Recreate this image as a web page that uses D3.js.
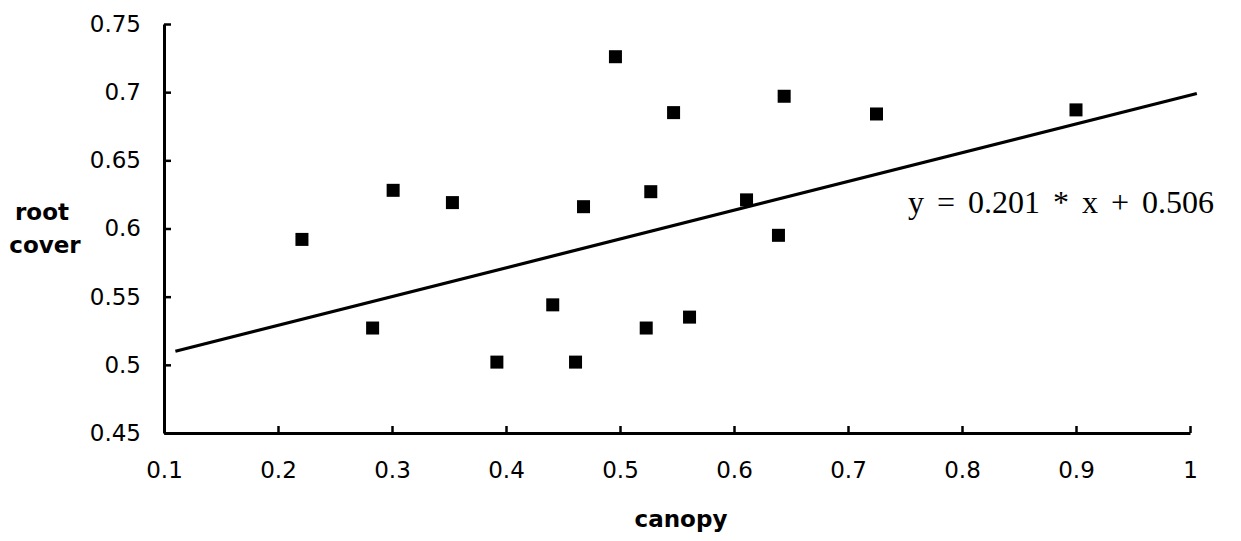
<!DOCTYPE html>
<html lang="en">
<head>
	<meta charset="utf-8">
	<title>Root cover vs canopy</title>
	<script src="https://d3js.org/d3.v7.min.js"></script>
	<style>
		body {
			margin: 0;
			background: #fff;
		}
		.tick text {
			font-family: "DejaVu Sans", Arial, sans-serif;
			font-size: 23px;
			fill: #000;
		}
		.label {
			font-family: "DejaVu Sans", Arial, sans-serif;
			font-weight: bold;
			font-size: 23px;
		}
	</style>
</head>
<body>
	<script>
		// canopy vs root cover
		var canopy = [0.221, 0.283, 0.301, 0.353, 0.392, 0.441, 0.461, 0.468, 0.496,
			0.527, 0.523, 0.547, 0.561, 0.611, 0.639, 0.644, 0.725, 0.900];
		var rootCover = [0.592, 0.527, 0.628, 0.619, 0.502, 0.544, 0.502, 0.616, 0.726,
			0.627, 0.527, 0.685, 0.535, 0.621, 0.595, 0.697, 0.684, 0.687];

		// fitted line as drawn (end points)
		var fitX = [0.11, 1.006];
		var fitY = [0.510, 0.699];

		var xTicks = [0.1, 0.2, 0.3, 0.4, 0.5, 0.6, 0.7, 0.8, 0.9, 1];
		var yTicks = [0.45, 0.5, 0.55, 0.6, 0.65, 0.7, 0.75];

		var w = 1241;
		var h = 541;

		var xScale = d3.scaleLinear().domain([0.1, 1]).range([164, 1190]);
		var yScale = d3.scaleLinear().domain([0.45, 0.75]).range([433, 24]);

		var svg = d3.select("body")
			.append("svg")
			.attr("width", w)
			.attr("height", h);

		var xAxis = d3.axisBottom(xScale)
			.tickValues(xTicks)
			.tickFormat(d3.format("~g"))
			.tickSizeInner(-7)
			.tickSizeOuter(0)
			.tickPadding(29);

		var yAxis = d3.axisLeft(yScale)
			.tickValues(yTicks)
			.tickFormat(d3.format("~g"))
			.tickSizeInner(-7)
			.tickSizeOuter(0)
			.tickPadding(23);

		var gx = svg.append("g")
			.attr("transform", "translate(0," + yScale(0.45) + ")")
			.call(xAxis);

		var gy = svg.append("g")
			.attr("transform", "translate(" + xScale(0.1) + ",0)")
			.call(yAxis);

		svg.selectAll(".domain")
			.attr("stroke", "#000")
			.attr("stroke-width", 3);
		svg.selectAll(".tick line")
			.attr("stroke", "#000")
			.attr("stroke-width", 2.5);

		gx.selectAll(".tick text").attr("dy", "0.71em");

		// regression line
		svg.append("line")
			.attr("x1", xScale(fitX[0]))
			.attr("y1", yScale(fitY[0]))
			.attr("x2", xScale(fitX[1]))
			.attr("y2", yScale(fitY[1]))
			.attr("stroke", "#000")
			.attr("stroke-width", 3.2);

		// square markers
		var size = 13;
		svg.selectAll("rect.pt")
			.data(canopy)
			.enter()
			.append("rect")
			.attr("class", "pt")
			.attr("x", function (d) { return xScale(d) - size / 2; })
			.attr("y", function (d, i) { return yScale(rootCover[i]) - size / 2; })
			.attr("width", size)
			.attr("height", size)
			.attr("fill", "#000");

		// equation
		svg.append("text")
			.attr("x", 908)
			.attr("y", 213)
			.style("font-family", "'Liberation Serif', 'Times New Roman', serif")
			.style("font-size", "32px")
			.style("word-spacing", "5px")
			.text("y = 0.201 * x + 0.506");

		// axis titles
		svg.append("text")
			.attr("class", "label")
			.attr("text-anchor", "middle")
			.attr("x", 681)
			.attr("y", 527)
			.text("canopy");

		svg.append("text")
			.attr("class", "label")
			.attr("text-anchor", "middle")
			.attr("x", 42)
			.attr("y", 220)
			.text("root");

		svg.append("text")
			.attr("class", "label")
			.attr("text-anchor", "middle")
			.attr("x", 45)
			.attr("y", 253)
			.text("cover");
	</script>
</body>
</html>
